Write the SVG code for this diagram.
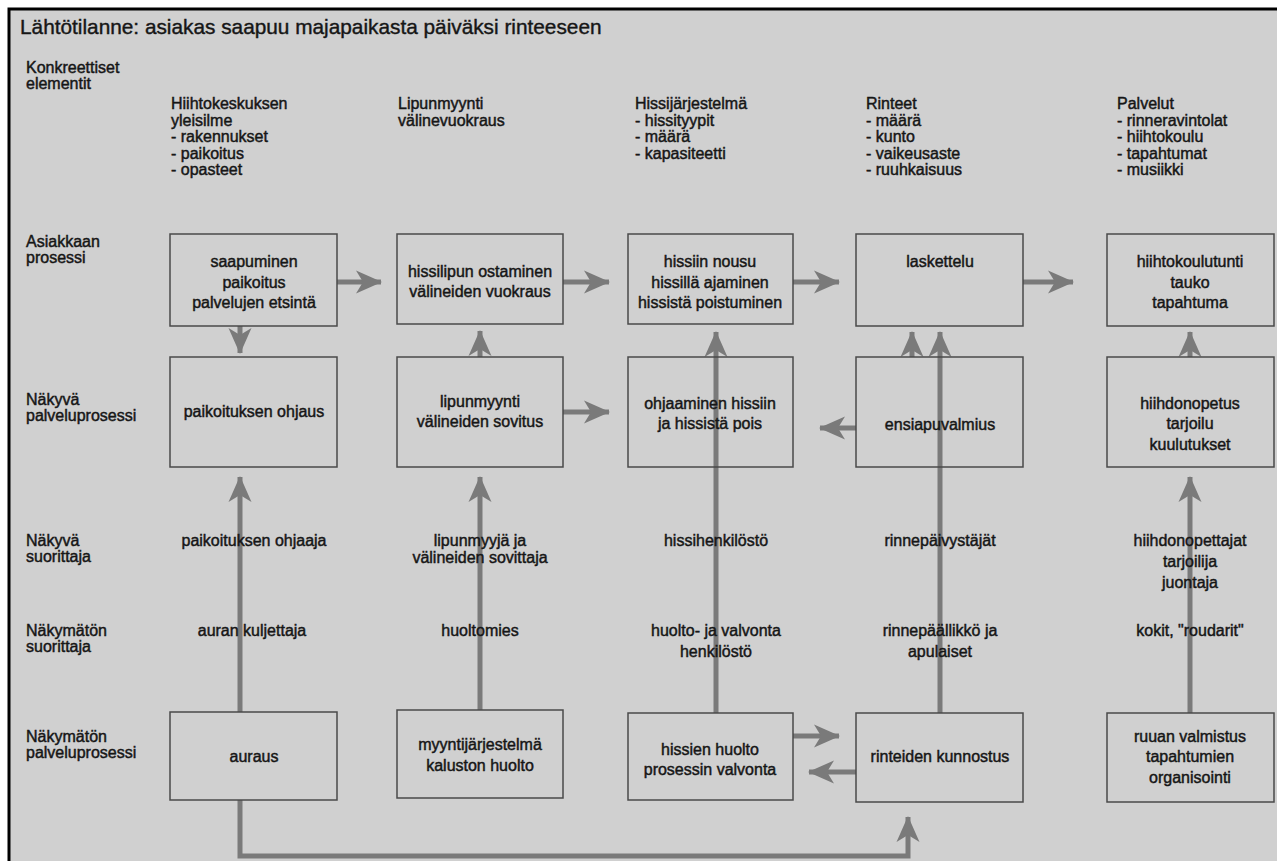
<svg xmlns="http://www.w3.org/2000/svg" width="1277" height="861" viewBox="0 0 1277 861">
<defs>
<style>
text{font-family:"Liberation Sans",Arial,sans-serif;font-size:16px;fill:#161616;stroke:#161616;stroke-width:0.45}
.t{font-size:20.8px;stroke-width:0.4}
.c{text-anchor:middle}
.box{fill:none;stroke:#4a4a4a;stroke-width:1.5}
.ar{fill:none;stroke:#7a7a7a;stroke-width:5;marker-end:url(#ah)}
</style>
<marker id="ah" markerUnits="userSpaceOnUse" markerWidth="26" markerHeight="26" viewBox="0 0 26 26" refX="25" refY="13" orient="auto">
<path d="M0,1.5 L26,13 L0,24.5 L7,13 Z" fill="#7a7a7a"/>
</marker>
</defs>
<rect width="1277" height="861" fill="#fff"/>
<rect x="9" y="9" width="1268" height="852" fill="#d0d0d0"/>
<path d="M9,861 V9 H1277" fill="none" stroke="#000" stroke-width="3"/>

<g id="title"><text class="t" x="20" y="34">Lähtötilanne: asiakas saapuu majapaikasta päiväksi rinteeseen</text></g>

<g id="row-labels">
<text x="26" y="73">Konkreettiset</text><text x="26" y="89">elementit</text>
<text x="26" y="247">Asiakkaan</text><text x="26" y="263">prosessi</text>
<text x="26" y="405">Näkyvä</text><text x="26" y="421">palveluprosessi</text>
<text x="26" y="546">Näkyvä</text><text x="26" y="562">suorittaja</text>
<text x="26" y="636">Näkymätön</text><text x="26" y="652">suorittaja</text>
<text x="26" y="742">Näkymätön</text><text x="26" y="758">palveluprosessi</text>
</g>

<g id="col1-head"><text x="171" y="109">Hiihtokeskuksen</text><text x="171" y="125.5">yleisilme</text><text x="171" y="142">- rakennukset</text><text x="171" y="158.5">- paikoitus</text><text x="171" y="175">- opasteet</text></g>
<g id="col2-head"><text x="398" y="109">Lipunmyynti</text><text x="398" y="125.5">välinevuokraus</text></g>
<g id="col3-head"><text x="635" y="109">Hissijärjestelmä</text><text x="635" y="125.5">- hissityypit</text><text x="635" y="142">- määrä</text><text x="635" y="158.5">- kapasiteetti</text></g>
<g id="col4-head"><text x="866" y="109">Rinteet</text><text x="866" y="125.5">- määrä</text><text x="866" y="142">- kunto</text><text x="866" y="158.5">- vaikeusaste</text><text x="866" y="175">- ruuhkaisuus</text></g>
<g id="col5-head"><text x="1117" y="109">Palvelut</text><text x="1117" y="125.5">- rinneravintolat</text><text x="1117" y="142">- hiihtokoulu</text><text x="1117" y="158.5">- tapahtumat</text><text x="1117" y="175">- musiikki</text></g>

<g id="connectors">
<path class="ar" d="M337,282 H381"/>
<path class="ar" d="M563,282 H609"/>
<path class="ar" d="M793,282 H839"/>
<path class="ar" d="M1023,282 H1073"/>
<path class="ar" d="M240,326 V353"/>
<path class="ar" d="M480,357 V331"/>
<path class="ar" d="M563,412 H609"/>
<path class="ar" d="M856,428 H820"/>
<path class="ar" d="M912,357 V332"/>
<path class="ar" d="M940,713 V332"/>
<path class="ar" d="M1190,357 V332"/>
<path class="ar" d="M716,713 V332"/>
<path class="ar" d="M240,712 V477"/>
<path class="ar" d="M480,710 V477"/>
<path class="ar" d="M1190,713 V477"/>
<path class="ar" d="M793,736 H839"/>
<path class="ar" d="M856,772 H809"/>
<path class="ar" d="M240,800 V856 H908 V817"/>
</g>

<g id="n-saapuminen"><rect class="box" x="170" y="234" width="167" height="92"/><text class="c" x="254" y="267">saapuminen</text><text class="c" x="254" y="288">paikoitus</text><text class="c" x="254" y="308">palvelujen etsintä</text></g>
<g id="n-hissilipun"><rect class="box" x="397" y="234" width="166" height="90"/><text class="c" x="480" y="277">hissilipun ostaminen</text><text class="c" x="480" y="297">välineiden vuokraus</text></g>
<g id="n-hissiin"><rect class="box" x="628" y="234" width="165" height="90"/><text class="c" x="710" y="267">hissiin nousu</text><text class="c" x="710" y="288">hissillä ajaminen</text><text class="c" x="710" y="308">hissistä poistuminen</text></g>
<g id="n-laskettelu"><rect class="box" x="856" y="234" width="167" height="92"/><text class="c" x="940" y="267">laskettelu</text></g>
<g id="n-hiihtokoulutunti"><rect class="box" x="1107" y="234" width="167" height="92"/><text class="c" x="1190" y="267">hiihtokoulutunti</text><text class="c" x="1190" y="288">tauko</text><text class="c" x="1190" y="308">tapahtuma</text></g>

<g id="n-paikoituksen-ohjaus"><rect class="box" x="170" y="357" width="167" height="110"/><text class="c" x="254" y="417">paikoituksen ohjaus</text></g>
<g id="n-lipunmyynti"><rect class="box" x="397" y="357" width="166" height="110"/><text class="c" x="480" y="407">lipunmyynti</text><text class="c" x="480" y="427">välineiden sovitus</text></g>
<g id="n-ohjaaminen"><rect class="box" x="628" y="357" width="165" height="110"/><text class="c" x="710" y="409">ohjaaminen hissiin</text><text class="c" x="710" y="429">ja hissistä pois</text></g>
<g id="n-ensiapuvalmius"><rect class="box" x="856" y="357" width="167" height="110"/><text class="c" x="940" y="430">ensiapuvalmius</text></g>
<g id="n-hiihdonopetus"><rect class="box" x="1107" y="357" width="167" height="110"/><text class="c" x="1190" y="409">hiihdonopetus</text><text class="c" x="1190" y="429">tarjoilu</text><text class="c" x="1190" y="450">kuulutukset</text></g>

<g id="n-suorittaja1"><text class="c" x="254" y="546">paikoituksen ohjaaja</text></g>
<g id="n-suorittaja2"><text class="c" x="480" y="546">lipunmyyjä ja</text><text class="c" x="480" y="563">välineiden sovittaja</text></g>
<g id="n-suorittaja3"><text class="c" x="716" y="546">hissihenkilöstö</text></g>
<g id="n-suorittaja4"><text class="c" x="940" y="546">rinnepäivystäjät</text></g>
<g id="n-suorittaja5"><text class="c" x="1190" y="546">hiihdonopettajat</text><text class="c" x="1190" y="567">tarjoilija</text><text class="c" x="1190" y="588">juontaja</text></g>

<g id="n-nakymaton1"><text class="c" x="252" y="636">auran kuljettaja</text></g>
<g id="n-nakymaton2"><text class="c" x="480" y="636">huoltomies</text></g>
<g id="n-nakymaton3"><text class="c" x="716" y="636">huolto- ja valvonta</text><text class="c" x="716" y="657">henkilöstö</text></g>
<g id="n-nakymaton4"><text class="c" x="940" y="636">rinnepäällikkö ja</text><text class="c" x="940" y="657">apulaiset</text></g>
<g id="n-nakymaton5"><text class="c" x="1190" y="636">kokit, "roudarit"</text></g>

<g id="n-auraus"><rect class="box" x="170" y="712" width="167" height="88"/><text class="c" x="254" y="762">auraus</text></g>
<g id="n-myyntijarjestelma"><rect class="box" x="397" y="710" width="166" height="88"/><text class="c" x="480" y="750">myyntijärjestelmä</text><text class="c" x="480" y="771">kaluston huolto</text></g>
<g id="n-hissien-huolto"><rect class="box" x="628" y="713" width="165" height="87"/><text class="c" x="710" y="755">hissien huolto</text><text class="c" x="710" y="775">prosessin valvonta</text></g>
<g id="n-rinteiden-kunnostus"><rect class="box" x="856" y="713" width="167" height="89"/><text class="c" x="940" y="762">rinteiden kunnostus</text></g>
<g id="n-ruuan-valmistus"><rect class="box" x="1107" y="713" width="167" height="89"/><text class="c" x="1190" y="742">ruuan valmistus</text><text class="c" x="1190" y="762">tapahtumien</text><text class="c" x="1190" y="783">organisointi</text></g>
</svg>
